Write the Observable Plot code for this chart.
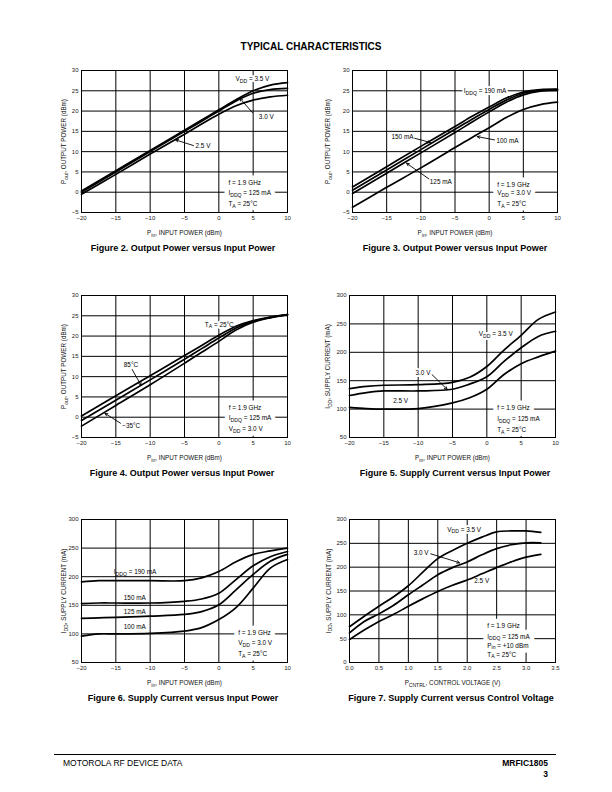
<!DOCTYPE html>
<html>
<head>
<meta charset="utf-8">
<script src="https://cdn.jsdelivr.net/npm/d3@7"></script>
<script src="https://cdn.jsdelivr.net/npm/@observablehq/plot@0.6"></script>
<style>
  body { margin: 0; background: #fff; }
  #page { position: relative; width: 612px; height: 792px; font-family: "Liberation Sans", Arial, sans-serif; color: #000; overflow: hidden; }
  .t { position: absolute; white-space: nowrap; line-height: 12px; }
  .cap { position: absolute; white-space: nowrap; font-weight: bold; font-size: 9px; line-height: 12px; transform: translateX(-50%); }
</style>
</head>
<body>
<div id="page">
  <div class="t" style="left:311px;top:41px;transform:translateX(-50%);font-weight:bold;font-size:10px;">TYPICAL CHARACTERISTICS</div>
  <div class="cap" style="left:183px;top:242px;">Figure 2. Output Power versus Input Power</div>
  <div class="cap" style="left:455px;top:242px;">Figure 3. Output Power versus Input Power</div>
  <div class="cap" style="left:182px;top:467px;">Figure 4. Output Power versus Input Power</div>
  <div class="cap" style="left:455px;top:467px;">Figure 5. Supply Current versus Input Power</div>
  <div class="cap" style="left:183px;top:692px;">Figure 6. Supply Current versus Input Power</div>
  <div class="cap" style="left:451px;top:692px;">Figure 7. Supply Current versus Control Voltage</div>
  <div style="position:absolute;left:54px;top:754px;width:502px;height:0;border-top:1px solid #000;"></div>
  <div class="t" style="left:63px;top:757px;font-size:8.5px;">MOTOROLA RF DEVICE DATA</div>
  <div class="t" style="right:64px;top:757px;font-size:8.5px;font-weight:bold;text-align:right;">MRFIC1805</div>
  <div class="t" style="right:64px;top:768px;font-size:8.5px;font-weight:bold;text-align:right;">3</div>
</div>
<script>
// ---------- data ----------
const pinA = [-20, -15, -10, -5, -2.5, 0, 2.5, 5, 7.5, 10];           // Figs 2-4 x values (dBm)
const pinB = [-20, -17.5, -15, -10, -5, -2.5, 0, 2.5, 5, 7.5, 10];     // Figs 5-6 x values (dBm)
const vctl = [0, 0.25, 0.5, 0.75, 1.0, 1.25, 1.5, 1.75, 2.0, 2.25, 2.5, 2.75, 3.0, 3.25]; // Fig 7 x (V)

// Figure 2: Pout (dBm) vs Pin, by VDD
const fig2Vdd35 = [0.3, 5.3, 10.3, 15.3, 17.8, 20.3, 22.8, 25.0, 26.4, 27.0];
const fig2Vdd30 = [0.0, 5.0, 10.0, 15.0, 17.5, 20.0, 22.5, 24.4, 25.3, 25.6];
const fig2Vdd25 = [-0.5, 4.4, 9.4, 14.3, 16.8, 19.2, 21.3, 22.7, 23.5, 23.9];

// Figure 3: Pout (dBm) vs Pin, by IDDQ
const fig3I190 = [1.3, 6.3, 11.3, 16.2, 18.7, 21.0, 23.2, 24.7, 25.3, 25.4];
const fig3I150 = [0.5, 5.5, 10.5, 15.5, 18.0, 20.4, 22.7, 24.4, 25.1, 25.3];
const fig3I125 = [-0.3, 4.7, 9.7, 14.7, 17.3, 19.8, 22.2, 24.0, 24.9, 25.1];
const fig3I100 = [-3.7, 1.2, 6.0, 11.0, 13.5, 15.9, 18.4, 20.4, 21.6, 22.2];

// Figure 4: Pout (dBm) vs Pin, by TA
const fig4T25 = [0.3, 5.3, 10.2, 15.2, 17.7, 20.2, 22.4, 23.8, 24.7, 25.3];
const fig4T85 = [-0.8, 4.2, 9.2, 14.3, 16.9, 19.5, 22.0, 23.6, 24.6, 25.3];
const fig4Tm35 = [-2.2, 2.9, 8.0, 13.3, 16.0, 18.7, 21.5, 23.4, 24.5, 25.3];

// Figure 5: IDD (mA) vs Pin, by VDD
const fig5Vdd35 = [136, 140, 142, 143, 147, 156, 175, 204, 230, 258, 271];
const fig5Vdd30 = [124, 129, 132, 132, 135, 144, 157, 184, 208, 228, 237];
const fig5Vdd25 = [103, 101, 100, 101, 111, 120, 135, 161, 180, 192, 202];

// Figure 6: IDD (mA) vs Pin, by IDDQ
const fig6I190 = [191, 193, 193, 193, 193, 198, 209, 226, 239, 245, 250];
const fig6I150 = [153, 154, 154, 154, 157, 161, 171, 195, 219, 235, 244];
const fig6I125 = [127, 128, 129, 131, 134, 139, 151, 177, 204, 227, 239];
const fig6I100 = [96, 100, 100, 101, 105, 111, 125, 146, 180, 215, 230];

// Figure 7: IDD (mA) vs control voltage, by VDD
const fig7Vdd35 = [75, 97, 118, 138, 161, 190, 218, 235, 250, 263, 274, 276, 276, 273];
const fig7Vdd30 = [62, 86, 102, 120, 142, 163, 184, 199, 211, 226, 239, 247, 251, 251];
const fig7Vdd25 = [48, 68, 86, 101, 118, 134, 149, 162, 173, 186, 199, 211, 221, 227];

// tick values
const pinTicks = [-20, -15, -10, -5, 0, 5, 10];
const poutTicks = [-5, 0, 5, 10, 15, 20, 25, 30];
const iddTicks = [50, 100, 150, 200, 250, 300];
const iddTicks7 = [0, 50, 100, 150, 200, 250, 300];
const vctlTicks = [0, 0.5, 1.0, 1.5, 2.0, 2.5, 3.0, 3.5];

// annotations (data coordinates)
const fig2Labels = [
  {x: 2.43, y: 27.8, text: "V_{DD} = 3.5 V"},
  {x: 5.82, y: 18.5, text: "3.0 V"},
  {x: -3.4, y: 11.3, text: "2.5 V"}
];
const fig2Arrows = [
  {x1: 4.9, y1: 19.6, x2: 3.05, y2: 23.2},
  {x1: -3.7, y1: 11.5, x2: -6.3, y2: 12.9}
];
const fig2Info = [
  {x: 1.4, y: 2.2, text: "f = 1.9 GHz"},
  {x: 1.4, y: -0.25, text: "I_{DDQ} = 125 mA"},
  {x: 1.4, y: -2.95, text: "T_{A} = 25°C"}
];

const fig3Labels = [
  {x: -3.71, y: 25.05, text: "I_{DDQ} = 190 mA"},
  {x: -14.3, y: 13.55, text: "150 mA"},
  {x: -8.69, y: 2.47, text: "125 mA"},
  {x: 1.07, y: 12.75, text: "100 mA"}
];
const fig3Arrows = [
  {x1: -10.9, y1: 13.3, x2: -8.6, y2: 12.25},
  {x1: -8.83, y1: 3.3, x2: -12.1, y2: 7.15},
  {x1: 0.78, y1: 12.9, x2: -1.75, y2: 13.7}
];
const fig3Info = [
  {x: 1.18, y: 1.9, text: "f = 1.9 GHz"},
  {x: 1.18, y: -0.3, text: "V_{DD} = 3.0 V"},
  {x: 1.18, y: -3.0, text: "T_{A} = 25°C"}
];

const fig4Labels = [
  {x: -2.04, y: 22.85, text: "T_{A} = 25°C"},
  {x: -13.84, y: 12.9, text: "85°C"},
  {x: -14.07, y: -2.04, text: "−35°C"}
];
const fig4Arrows = [
  {x1: -12.62, y1: 11.76, x2: -11.31, y2: 7.82},
  {x1: -14.32, y1: -1.48, x2: -16.6, y2: 0.98}
];
const fig4Info = [
  {x: 1.45, y: 2.2, text: "f = 1.9 GHz"},
  {x: 1.45, y: -0.25, text: "I_{DDQ} = 125 mA"},
  {x: 1.45, y: -3.0, text: "V_{DD} = 3.0 V"}
];

const fig5Labels = [
  {x: -1.17, y: 232.6, text: "V_{DD} = 3.5 V"},
  {x: -10.39, y: 163.2, text: "3.0 V"},
  {x: -13.64, y: 113.9, text: "2.5 V"}
];
const fig5Arrows = [{x1: -7.96, y1: 160.4, x2: -5.77, y2: 134.5}];
const fig5Info = [
  {x: 1.51, y: 101.6, text: "f = 1.9 GHz"},
  {x: 1.51, y: 82.9, text: "I_{DDQ} = 125 mA"},
  {x: 1.51, y: 64.0, text: "T_{A} = 25°C"}
];

const fig6Labels = [
  {x: -15.3, y: 207.9, text: "I_{DDQ} = 190 mA"},
  {x: -13.84, y: 163.1, text: "150 mA"},
  {x: -13.84, y: 137.9, text: "125 mA"},
  {x: -13.84, y: 111.7, text: "100 mA"}
];
const fig6Info = [
  {x: 2.82, y: 101.2, text: "f = 1.9 GHz"},
  {x: 2.82, y: 83.7, text: "V_{DD} = 3.0 V"},
  {x: 2.82, y: 65.2, text: "T_{A} = 25°C"}
];

const fig7Labels = [
  {x: 1.66, y: 279, text: "V_{DD} = 3.5 V"},
  {x: 1.09, y: 230.1, text: "3.0 V"},
  {x: 2.12, y: 170.6, text: "2.5 V"}
];
const fig7Arrows = [{x1: 1.38, y1: 228, x2: 1.87, y2: 209.2}];
const fig7Info = [
  {x: 2.34, y: 77.6, text: "f = 1.9 GHz"},
  {x: 2.34, y: 54.6, text: "I_{DDQ} = 125 mA"},
  {x: 2.34, y: 35.7, text: "P_{in} = +10 dBm"},
  {x: 2.34, y: 16.8, text: "T_{A} = 25°C"}
];

// ---------- helpers ----------
const FONT = "Liberation Sans, Arial, Helvetica, sans-serif";
function rows(xs, series) {
  return series.flatMap(([name, ys]) => xs.map((x, i) => ({x, y: ys[i], s: name})));
}
function applySubs(svg) {
  svg.querySelectorAll("text").forEach(t => {
    const s = t.textContent;
    if (!s.includes("_{")) return;
    const holder = t.closest("[font-size]");
    const fs = holder ? parseFloat(holder.getAttribute("font-size")) : 6;
    const shift = fs * 0.3, sub = fs * 0.8;
    t.textContent = "";
    let down = false;
    for (const p of s.split(/(_\{[^}]*\})/)) {
      if (!p) continue;
      const ts = document.createElementNS("http://www.w3.org/2000/svg", "tspan");
      if (p.startsWith("_{")) {
        ts.textContent = p.slice(2, -1);
        ts.setAttribute("font-size", sub);
        if (!down) ts.setAttribute("dy", shift);
        down = true;
      } else {
        ts.textContent = p;
        if (down) ts.setAttribute("dy", -shift);
        down = false;
      }
      t.appendChild(ts);
    }
  });
}

function chart(cfg) {
  const [fx0, fy0, fx1, fy1] = cfg.frame;
  const L = 40, T = 10, R = 14, B = 30;
  const width = fx1 - fx0 + L + R, height = fy1 - fy0 + T + B;
  const ink = {stroke: "#000", strokeOpacity: 1, strokeWidth: 1};
  const txt = {x: "x", y: "y", text: "text", textAnchor: "start", lineAnchor: "middle", fontSize: 6.4, fill: "#000"};
  const labels = cfg.labels || [];
  const marks = [
    Plot.gridX(cfg.xTicks.slice(1, -1), ink),
    Plot.gridY(cfg.yTicks.slice(1, -1), ink),
    // white boxes behind the text blocks (halo only)
    Plot.text(cfg.info || [], {...txt, fill: "white", stroke: "white", strokeWidth: 9, strokeLinejoin: "round"}),
    Plot.text(cfg.haloLabels === false ? [] : labels, {...txt, fill: "white", stroke: "white", strokeWidth: 4, strokeLinejoin: "round"}),
    Plot.line(cfg.data, {x: "x", y: "y", z: "s", stroke: "#000", strokeWidth: 1.7, curve: "catmull-rom"}),
    Plot.arrow(cfg.arrows || [], {x1: "x1", y1: "y1", x2: "x2", y2: "y2", stroke: "#000", strokeWidth: 0.9, headLength: 5, headAngle: 50}),
    Plot.text(cfg.info || [], txt),
    Plot.text(labels, txt),
    Plot.axisX(cfg.xTicks, {tickSize: 0, tickPadding: 3, label: null, fontSize: 6, fill: "#222", tickFormat: cfg.xFormat || d3.format("d")}),
    Plot.axisY(cfg.yTicks, {tickSize: 0, tickPadding: 3, label: null, fontSize: 6, fill: "#222", tickFormat: d3.format("d")}),
    Plot.text([cfg.xTitle], {text: d => d, frameAnchor: "bottom", textAnchor: "middle", lineAnchor: "middle", dy: 20.5, fontSize: 6.3, fill: "#111"}),
    Plot.text([cfg.yTitle], {text: d => d, frameAnchor: "left", textAnchor: "middle", lineAnchor: "middle", dx: -cfg.yOff, rotate: -90, fontSize: 6.3, fill: "#111"}),
    Plot.frame({stroke: "#000", strokeWidth: 1})
  ];
  const svg = Plot.plot({
    width, height, marginLeft: L, marginRight: R, marginTop: T, marginBottom: B,
    x: {domain: cfg.xDomain, nice: false},
    y: {domain: cfg.yDomain, nice: false},
    style: {fontFamily: FONT, fontSize: "6px", background: "transparent", overflow: "visible", color: "#000"},
    marks
  });
  applySubs(svg);
  svg.style.position = "absolute";
  svg.style.left = (fx0 - L) + "px";
  svg.style.top = (fy0 - T) + "px";
  svg.style.maxWidth = "none";
  document.getElementById("page").appendChild(svg);
}

const poutTitle = "P_{out}, OUTPUT POWER (dBm)";
const pinTitle = "P_{in}, INPUT POWER (dBm)";
const iddTitle = "I_{DD}, SUPPLY CURRENT (mA)";

chart({
  frame: [81, 70, 287, 212], xDomain: [-20, 10], yDomain: [-5, 30],
  xTicks: pinTicks, yTicks: poutTicks, xTitle: pinTitle, yTitle: poutTitle, yOff: 17.7,
  data: rows(pinA, [["3.5 V", fig2Vdd35], ["3.0 V", fig2Vdd30], ["2.5 V", fig2Vdd25]]),
  labels: fig2Labels, arrows: fig2Arrows, info: fig2Info
});
chart({
  frame: [352, 70, 557, 212], xDomain: [-20, 10], yDomain: [-5, 30],
  xTicks: pinTicks, yTicks: poutTicks, xTitle: pinTitle, yTitle: poutTitle, yOff: 24.7,
  data: rows(pinA, [["190", fig3I190], ["150", fig3I150], ["125", fig3I125], ["100", fig3I100]]),
  labels: fig3Labels, arrows: fig3Arrows, info: fig3Info
});
chart({
  frame: [81, 295, 287, 437], xDomain: [-20, 10], yDomain: [-5, 30],
  xTicks: pinTicks, yTicks: poutTicks, xTitle: pinTitle, yTitle: poutTitle, yOff: 17.7,
  data: rows(pinA, [["25", fig4T25], ["85", fig4T85], ["-35", fig4Tm35]]),
  labels: fig4Labels, arrows: fig4Arrows, info: fig4Info
});
chart({
  frame: [349, 295, 555, 437], xDomain: [-20, 10], yDomain: [50, 300],
  xTicks: pinTicks, yTicks: iddTicks, xTitle: pinTitle, yTitle: iddTitle, yOff: 21.7,
  data: rows(pinB, [["3.5 V", fig5Vdd35], ["3.0 V", fig5Vdd30], ["2.5 V", fig5Vdd25]]),
  labels: fig5Labels, arrows: fig5Arrows, info: fig5Info
});
chart({
  frame: [81, 519, 287, 662], xDomain: [-20, 10], yDomain: [50, 300],
  xTicks: pinTicks, yTicks: iddTicks, xTitle: pinTitle, yTitle: iddTitle, yOff: 17.7,
  data: rows(pinB, [["190", fig6I190], ["150", fig6I150], ["125", fig6I125], ["100", fig6I100]]),
  labels: fig6Labels, haloLabels: false, info: fig6Info
});
chart({
  frame: [349, 519, 555, 662], xDomain: [0, 3.5], yDomain: [0, 300],
  xTicks: vctlTicks, yTicks: iddTicks7, xTitle: "P_{CNTRL}, CONTROL VOLTAGE (V)", yTitle: iddTitle, yOff: 21,
  xFormat: d3.format(".1f"),
  data: rows(vctl, [["3.5 V", fig7Vdd35], ["3.0 V", fig7Vdd30], ["2.5 V", fig7Vdd25]]),
  labels: fig7Labels, arrows: fig7Arrows, info: fig7Info
});
</script>
</body>
</html>
